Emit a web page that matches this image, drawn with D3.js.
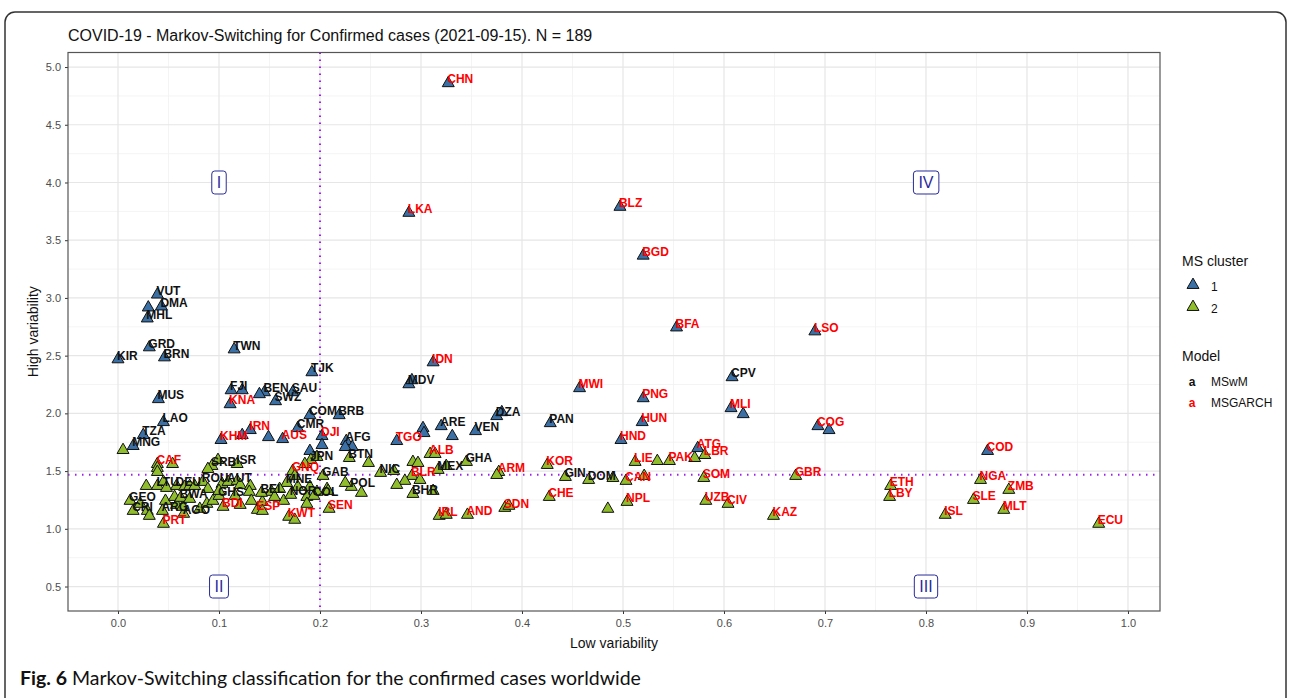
<!DOCTYPE html>
<html>
<head>
<meta charset="utf-8">
<script src="https://cdn.jsdelivr.net/npm/d3@7"></script>
<style>
  body { margin: 0; background: #fff; }
  text { font-family: "Liberation Sans", Arial, sans-serif; }
</style>
</head>
<body>
<div id="chart"></div>
<script>
// [country, low variability, high variability, model] ; "" = unlabelled point
const cluster1 = [
  ["CHN",0.327,4.860,"MSGARCH"], ["LKA",0.288,3.737,"MSGARCH"], ["BLZ",0.497,3.789,"MSGARCH"],
  ["BGD",0.520,3.366,"MSGARCH"], ["BFA",0.553,2.744,"MSGARCH"], ["LSO",0.690,2.710,"MSGARCH"],
  ["CPV",0.608,2.313,"MSwM"], ["MLI",0.607,2.045,"MSGARCH"], ["",0.619,1.993,""],
  ["COG",0.693,1.889,"MSGARCH"], ["",0.704,1.855,""], ["COD",0.861,1.674,"MSGARCH"],
  ["ATG",0.574,1.699,"MSGARCH"], ["MWI",0.457,2.218,"MSGARCH"], ["PNG",0.520,2.131,"MSGARCH"],
  ["PAN",0.428,1.915,"MSwM"], ["HUN",0.519,1.924,"MSGARCH"], ["HND",0.498,1.769,"MSGARCH"],
  ["IDN",0.312,2.442,"MSGARCH"], ["MDV",0.288,2.252,"MSwM"], ["",0.291,2.287,""],
  ["TJK",0.192,2.356,"MSwM"], ["BEN",0.145,2.183,"MSwM"], ["",0.140,2.166,""],
  ["SAU",0.173,2.183,"MSwM"], ["SWZ",0.156,2.105,"MSwM"], ["COM",0.190,1.984,"MSwM"],
  ["BRB",0.219,1.984,"MSwM"], ["CMR",0.178,1.872,"MSwM"], ["AUS",0.163,1.777,"MSGARCH"],
  ["",0.149,1.794,""], ["DJI",0.202,1.803,"MSGARCH"], ["",0.202,1.725,""],
  ["AFG",0.226,1.760,"MSwM"], ["",0.232,1.708,""], ["",0.225,1.708,""],
  ["",0.190,1.674,""], ["TGO",0.276,1.760,"MSGARCH"], ["ARE",0.320,1.889,"MSwM"],
  ["",0.302,1.872,""], ["",0.303,1.829,""], ["",0.331,1.803,""],
  ["VEN",0.354,1.846,"MSwM"], ["DZA",0.375,1.976,"MSwM"], ["",0.380,2.010,""],
  ["VUT",0.039,3.029,"MSwM"], ["DMA",0.043,2.926,"MSwM"], ["",0.030,2.917,""],
  ["MHL",0.029,2.822,"MSwM"], ["GRD",0.031,2.572,"MSwM"], ["KIR",0.000,2.468,"MSwM"],
  ["BRN",0.046,2.485,"MSwM"], ["TWN",0.115,2.554,"MSwM"], ["FJI",0.112,2.200,"MSwM"],
  ["",0.123,2.200,""], ["KNA",0.111,2.079,"MSGARCH"], ["MUS",0.040,2.123,"MSwM"],
  ["LAO",0.045,1.924,"MSwM"], ["TZA",0.025,1.812,"MSwM"], ["MNG",0.015,1.717,"MSwM"],
  ["KHM",0.102,1.769,"MSGARCH"], ["",0.123,1.812,""], ["IRN",0.131,1.855,"MSGARCH"]
];

const cluster2 = [
  ["",0.005,1.682,""], ["CAF",0.039,1.561,"MSGARCH"], ["",0.039,1.527,""],
  ["",0.039,1.492,""], ["",0.054,1.561,""], ["SRB",0.093,1.544,"MSwM"],
  ["",0.099,1.596,""], ["",0.089,1.518,""], ["ISR",0.118,1.561,"MSwM"],
  ["",0.028,1.371,""], ["LTU",0.039,1.371,"MSwM"], ["",0.045,1.406,""],
  ["",0.048,1.354,""], ["GEO",0.012,1.242,"MSwM"], ["CRI",0.015,1.155,"MSwM"],
  ["",0.022,1.216,""], ["",0.029,1.155,""], ["",0.031,1.112,""],
  ["ARG",0.044,1.155,"MSwM"], ["PRT",0.045,1.043,"MSGARCH"], ["",0.047,1.242,""],
  ["",0.056,1.276,""], ["",0.058,1.207,""], ["AGO",0.065,1.130,"MSwM"],
  ["",0.064,1.190,""], ["DEU",0.058,1.371,"MSwM"], ["",0.066,1.363,""],
  ["",0.071,1.371,""], ["",0.076,1.371,""], ["ROU",0.084,1.406,"MSwM"],
  ["",0.089,1.345,""], ["",0.103,1.389,""], ["AUT",0.109,1.406,"MSwM"],
  ["",0.118,1.415,""], ["",0.121,1.380,""], ["",0.131,1.371,""],
  ["BWA",0.062,1.268,"MSwM"], ["",0.071,1.259,""], ["",0.081,1.173,""],
  ["",0.088,1.216,""], ["",0.094,1.242,""], ["GHS",0.100,1.285,"MSwM"],
  ["",0.100,1.328,""], ["BDI",0.104,1.190,"MSGARCH"], ["",0.116,1.285,""],
  ["",0.121,1.207,""], ["",0.130,1.320,""], ["",0.132,1.242,""],
  ["ESP",0.138,1.164,"MSGARCH"], ["",0.143,1.233,""], ["",0.143,1.155,""],
  ["",0.152,1.320,""], ["BEL",0.142,1.311,"MSwM"], ["",0.164,1.242,""],
  ["NOR",0.171,1.294,"MSwM"], ["KWT",0.169,1.104,"MSGARCH"], ["",0.175,1.078,""],
  ["GNQ",0.173,1.501,"MSGARCH"], ["",0.175,1.458,""], ["MNE",0.167,1.397,"MSwM"],
  ["",0.178,1.363,""], ["",0.187,1.276,""], ["",0.190,1.363,""],
  ["",0.197,1.320,""], ["GAB",0.203,1.458,"MSwM"], ["",0.207,1.345,""],
  ["SEN",0.209,1.173,"MSGARCH"], ["JPN",0.191,1.596,"MSwM"], ["",0.185,1.561,""],
  ["",0.197,1.622,""], ["COL",0.194,1.285,"MSwM"], ["",0.208,1.328,""],
  ["",0.187,1.216,""], ["",0.160,1.345,""], ["",0.155,1.276,""],
  ["POL",0.231,1.363,"MSwM"], ["",0.225,1.397,""], ["",0.241,1.311,""],
  ["BTN",0.229,1.613,"MSwM"], ["",0.248,1.570,""], ["NIC",0.260,1.484,"MSwM"],
  ["",0.273,1.501,""], ["",0.292,1.579,""], ["",0.297,1.570,""],
  ["BLR",0.291,1.458,"MSGARCH"], ["",0.284,1.415,""], ["",0.276,1.380,""],
  ["BHR",0.292,1.302,"MSwM"], ["",0.299,1.423,""], ["",0.312,1.328,""],
  ["ALB",0.309,1.648,"MSGARCH"], ["",0.314,1.648,""], ["MEX",0.317,1.510,"MSwM"],
  ["",0.325,1.544,""], ["GHA",0.345,1.579,"MSwM"], ["ARM",0.377,1.492,"MSGARCH"],
  ["",0.375,1.466,""], ["SDN",0.383,1.181,"MSGARCH"], ["",0.387,1.199,""],
  ["IRL",0.318,1.112,"MSGARCH"], ["",0.325,1.121,""], ["AND",0.346,1.121,"MSGARCH"],
  ["KOR",0.425,1.553,"MSGARCH"], ["CHE",0.427,1.276,"MSGARCH"], ["GIN",0.443,1.449,"MSwM"],
  ["DOM",0.466,1.423,"MSwM"], ["",0.490,1.440,""], ["CAN",0.503,1.415,"MSGARCH"],
  ["",0.521,1.458,""], ["",0.485,1.173,""], ["NPL",0.504,1.233,"MSGARCH"],
  ["LIE",0.512,1.579,"MSGARCH"], ["",0.534,1.587,""], ["PAK",0.546,1.587,"MSGARCH"],
  ["",0.571,1.613,""], ["LBR",0.581,1.639,"MSGARCH"], ["SOM",0.580,1.440,"MSGARCH"],
  ["UZB",0.582,1.242,"MSGARCH"], ["CIV",0.604,1.216,"MSGARCH"], ["KAZ",0.649,1.112,"MSGARCH"],
  ["GBR",0.671,1.458,"MSGARCH"], ["ETH",0.765,1.371,"MSGARCH"], ["LBY",0.764,1.276,"MSGARCH"],
  ["NGA",0.854,1.423,"MSGARCH"], ["ZMB",0.882,1.337,"MSGARCH"], ["SLE",0.847,1.250,"MSGARCH"],
  ["MLT",0.877,1.164,"MSGARCH"], ["ISL",0.819,1.121,"MSGARCH"], ["ECU",0.971,1.043,"MSGARCH"]
];

const xTicks = [0.0, 0.1, 0.2, 0.3, 0.4, 0.5, 0.6, 0.7, 0.8, 0.9, 1.0];
const yTicks = [0.5, 1.0, 1.5, 2.0, 2.5, 3.0, 3.5, 4.0, 4.5, 5.0];
const quadrants = [["I", 0.1, 4.0], ["II", 0.1, 0.5], ["III", 0.8, 0.5], ["IV", 0.8, 4.0]];
const lowCut = 0.2;
const highCut = 1.468;
const clusters = ["1", "2"];
const models = ["MSwM", "MSGARCH"];

const W = 1289, H = 698;
const fillColor = { "1": "#3a70a6", "2": "#8fbd2c" };
const textColor = { "MSwM": "#111", "MSGARCH": "#ff0000" };
const quadColor = "#2b2b9c";

const svg = d3.select("#chart").append("svg").attr("width", W).attr("height", H);

// figure frame
svg.append("rect").attr("x", 5).attr("y", 12).attr("width", 1281).attr("height", 760)
  .attr("rx", 10).attr("fill", "none").attr("stroke", "#333").attr("stroke-width", 1.5);

const panel = { left: 68, right: 1160, top: 52.5, bottom: 611 };
const x = d3.scaleLinear().domain([-0.0495, 1.0317]).range([panel.left, panel.right]);
const y = d3.scaleLinear().domain([0.288, 5.126]).range([panel.bottom, panel.top]);

// grid
const xMinor = d3.pairs(xTicks).map(p => (p[0] + p[1]) / 2).concat([-0.05]);
const yMinor = d3.pairs(yTicks).map(p => (p[0] + p[1]) / 2);
const grid = svg.append("g");
grid.selectAll(".xmin").data(xMinor.filter(v => x(v) > panel.left)).join("line")
  .attr("x1", d => x(d)).attr("x2", d => x(d)).attr("y1", panel.top).attr("y2", panel.bottom)
  .attr("stroke", "#f1f1f1").attr("stroke-width", 0.8);
grid.selectAll(".ymin").data(yMinor).join("line")
  .attr("y1", d => y(d)).attr("y2", d => y(d)).attr("x1", panel.left).attr("x2", panel.right)
  .attr("stroke", "#f1f1f1").attr("stroke-width", 0.8);
grid.selectAll(".xmaj").data(xTicks).join("line")
  .attr("x1", d => x(d)).attr("x2", d => x(d)).attr("y1", panel.top).attr("y2", panel.bottom)
  .attr("stroke", "#e6e6e6").attr("stroke-width", 1.2);
grid.selectAll(".ymaj").data(yTicks).join("line")
  .attr("y1", d => y(d)).attr("y2", d => y(d)).attr("x1", panel.left).attr("x2", panel.right)
  .attr("stroke", "#e6e6e6").attr("stroke-width", 1.2);

// axes
const xAxis = svg.append("g").attr("transform", `translate(0,${panel.bottom})`)
  .call(d3.axisBottom(x).tickValues(xTicks).tickFormat(d3.format(".1f")).tickSize(3).tickPadding(5));
const yAxis = svg.append("g").attr("transform", `translate(${panel.left},0)`)
  .call(d3.axisLeft(y).tickValues(yTicks).tickFormat(d3.format(".1f")).tickSize(3).tickPadding(4));
[xAxis, yAxis].forEach(a => {
  a.select(".domain").remove();
  a.selectAll(".tick line").attr("stroke", "#333");
  a.selectAll(".tick text").attr("fill", "#4d4d4d").style("font-size", "11px")
    .style("font-family", "'Liberation Sans', Arial, sans-serif");
});

// cut lines
svg.append("line").attr("x1", x(lowCut)).attr("x2", x(lowCut)).attr("y1", panel.top).attr("y2", panel.bottom)
  .attr("stroke", "#a020f0").attr("stroke-width", 2).attr("stroke-dasharray", "1.5,5.5");
svg.append("line").attr("y1", y(highCut)).attr("y2", y(highCut)).attr("x1", panel.left).attr("x2", panel.right)
  .attr("stroke", "#a020f0").attr("stroke-width", 2).attr("stroke-dasharray", "1.5,5.5");

// quadrant labels
const q = svg.append("g").selectAll("g").data(quadrants).join("g")
  .attr("transform", d => `translate(${x(d[1])},${y(d[2])})`);
q.append("text").text(d => d[0]).attr("text-anchor", "middle").attr("dy", "0.36em")
  .attr("fill", quadColor).style("font-size", "16px");
q.each(function () {
  const g = d3.select(this);
  const b = g.select("text").node().getBBox();
  g.insert("rect", "text").attr("x", b.x - 5).attr("y", -11.5).attr("width", b.width + 10).attr("height", 23)
    .attr("rx", 3).attr("fill", "#fff").attr("stroke", quadColor).attr("stroke-width", 1);
});

// points
const pts = cluster1.map(d => ({ code: d[0], lx: d[1], hy: d[2], model: d[3], cl: "1" }))
  .concat(cluster2.map(d => ({ code: d[0], lx: d[1], hy: d[2], model: d[3], cl: "2" })));
const tri = d3.symbol().type(d3.symbolTriangle).size(62);

svg.append("g").selectAll("path").data(pts).join("path")
  .attr("d", tri).attr("transform", d => `translate(${x(d.lx)},${y(d.hy)})`)
  .attr("fill", d => fillColor[d.cl]).attr("stroke", "#111").attr("stroke-width", 1);

svg.append("g").selectAll("text").data(pts.filter(d => d.code)).join("text")
  .attr("x", d => x(d.lx) - 1).attr("y", d => y(d.hy) - 4).attr("dy", "0.35em")
  .text(d => d.code).attr("fill", d => textColor[d.model])
  .style("font-family", "'Liberation Sans Narrow', 'Arial Narrow', 'Liberation Sans', sans-serif")
  .style("font-weight", "bold").style("font-size", "12px");

// panel border
svg.append("rect").attr("x", panel.left).attr("y", panel.top)
  .attr("width", panel.right - panel.left).attr("height", panel.bottom - panel.top)
  .attr("fill", "none").attr("stroke", "#555").attr("stroke-width", 1.2);

// title & axis titles
svg.append("text").attr("x", 68).attr("y", 41).text("COVID-19 - Markov-Switching for Confirmed cases (2021-09-15). N = 189")
  .attr("fill", "#111").style("font-size", "16px");
svg.append("text").attr("x", (panel.left + panel.right) / 2).attr("y", 648).attr("text-anchor", "middle")
  .text("Low variability").attr("fill", "#111").style("font-size", "14px");
svg.append("text").attr("transform", `translate(38,${(panel.top + panel.bottom) / 2}) rotate(-90)`)
  .attr("text-anchor", "middle").text("High variability").attr("fill", "#111").style("font-size", "14px");

// legend
const lg = svg.append("g");
lg.append("text").attr("x", 1182).attr("y", 266).text("MS cluster").attr("fill", "#111").style("font-size", "14px");
clusters.forEach((c, i) => {
  lg.append("path").attr("d", tri).attr("transform", `translate(1193,${285 + i * 22})`)
    .attr("fill", fillColor[c]).attr("stroke", "#111").attr("stroke-width", 1);
  lg.append("text").attr("x", 1211).attr("y", 287 + i * 22).attr("dy", "0.35em").text(c)
    .attr("fill", "#111").style("font-size", "12px");
});
lg.append("text").attr("x", 1182).attr("y", 361).text("Model").attr("fill", "#111").style("font-size", "14px");
models.forEach((m, i) => {
  lg.append("text").attr("x", 1192).attr("y", 382 + i * 21).attr("dy", "0.35em").attr("text-anchor", "middle")
    .text("a").attr("fill", textColor[m]).style("font-weight", "bold").style("font-size", "12px");
  lg.append("text").attr("x", 1211).attr("y", 382 + i * 21).attr("dy", "0.35em").text(m)
    .attr("fill", "#111").style("font-size", "12px");
});

// caption
const cap = svg.append("text").attr("x", 20).attr("y", 685)
  .style("font-family", "Lato, 'Open Sans', sans-serif").style("font-size", "19.5px").attr("fill", "#111");
cap.append("tspan").text("Fig. 6").style("font-weight", "bold");
cap.append("tspan").text(" Markov-Switching classification for the confirmed cases worldwide");
</script>
</body>
</html>
